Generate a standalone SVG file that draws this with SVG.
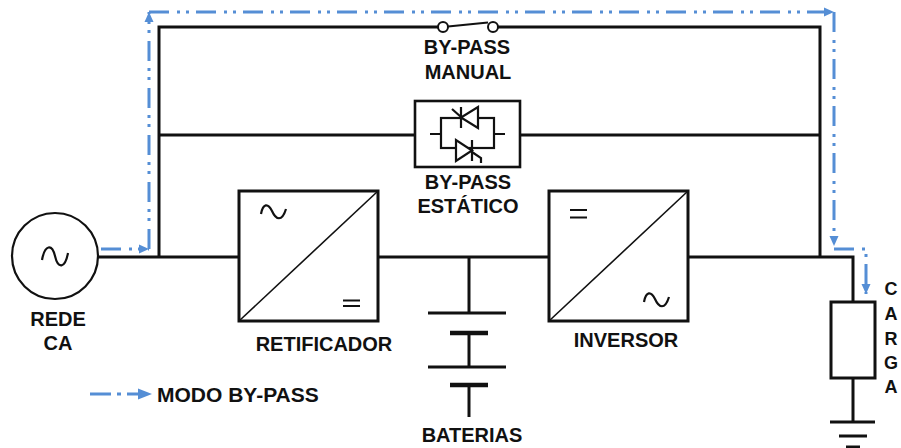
<svg xmlns="http://www.w3.org/2000/svg" width="901" height="448" viewBox="0 0 901 448">
<style>
.w{fill:none;stroke:#111;stroke-width:3}
.thin{fill:none;stroke:#111;stroke-width:1.6}
.sym{fill:none;stroke:#111;stroke-width:2.2}
.t{font-family:"Liberation Sans",Arial,sans-serif;font-weight:bold;font-size:20px;fill:#111;text-anchor:middle}
.c{font-size:18px}
.b{fill:none;stroke:#558ed5;stroke-width:3;stroke-dasharray:20 8 3 6 3 7}
</style>
<defs>
<marker id="ar" markerUnits="userSpaceOnUse" markerWidth="12" markerHeight="12" viewBox="0 0 12 12" refX="10" refY="6" orient="auto">
<path d="M0,1.5 L10,6 L0,10.5 Z" fill="#558ed5"/>
</marker>
</defs>
<rect width="901" height="448" fill="#fff"/>
<g id="connectors">
<path class="w" d="M159,257 V27 H438 M498,27 H820 V257"/>
<path class="w" d="M159,135 H415 M520,135 H820"/>
<path class="w" d="M98,257 H239 M378,257 H549 M688,257 H853 V302 M853,378 V422"/>
<path class="w" d="M469,257 V313"/>
</g>
<g id="bypass-mode">
<path class="b" d="M101,249 H149" marker-end="url(#ar)"/>
<path class="b" d="M149,249 V12" marker-end="url(#ar)"/>
<path class="b" d="M149,12 H834" marker-end="url(#ar)"/>
<path class="b" d="M834,12 V246" marker-end="url(#ar)"/>
<path class="b" d="M834,249 H866 V294" marker-end="url(#ar)"/>
</g>
<g id="rede-ca">
<circle cx="55" cy="256" r="43" fill="#fff" stroke="#111" stroke-width="2.2"/>
<path class="sym" d="M42,260 C45,244 52,244 55,256 C58,269 65,269 68,253"/>
<text class="t" x="58" y="326">REDE</text>
<text class="t" x="58" y="350">CA</text>
</g>
<g id="bypass-manual">
<circle cx="443" cy="27" r="5" fill="#fff" stroke="#111" stroke-width="2"/>
<circle cx="493" cy="27" r="5" fill="#fff" stroke="#111" stroke-width="2"/>
<path class="sym" d="M448,26.5 L488,22.5"/>
<text class="t" x="467" y="54">BY-PASS</text>
<text class="t" x="468" y="79">MANUAL</text>
</g>
<g id="bypass-estatico">
<rect x="415" y="101" width="105" height="66" fill="#fff" stroke="#111" stroke-width="2.6"/>
<path class="sym" d="M430,134 H441 M494,134 H505"/>
<rect x="441" y="118" width="53" height="30" class="sym"/>
<path d="M478,107 L478,128 L461,117.5 Z" fill="#fff" stroke="#111" stroke-width="2.2"/>
<path class="sym" d="M461,107 V128 M461,117 L452,109"/>
<path d="M456,140 L456,161 L472,150.5 Z" fill="#fff" stroke="#111" stroke-width="2.2"/>
<path class="sym" d="M472,140 V161 M472,152 L481,158 V163"/>
<text class="t" x="468" y="189">BY-PASS</text>
<text class="t" x="468" y="213">ESTÁTICO</text>
</g>
<g id="retificador">
<rect x="239" y="191" width="139" height="130" fill="#fff" stroke="#111" stroke-width="3"/>
<path class="thin" d="M239,321 L378,191"/>
<path class="sym" d="M261,214 C263,203 268,203 272,211 C276,220 282,222 286,209"/>
<path class="sym" d="M343,300.5 H360 M343,306 H360"/>
<text class="t" x="324" y="351">RETIFICADOR</text>
</g>
<g id="baterias">
<path class="w" d="M428,313 H506"/>
<path d="M450,333 H488" stroke="#111" stroke-width="4.5"/>
<path class="w" d="M469,333 V367 M428,367 H506"/>
<path d="M450,385 H488" stroke="#111" stroke-width="4.5"/>
<path class="w" d="M469,385 V417"/>
<text class="t" x="472" y="442">BATERIAS</text>
</g>
<g id="inversor">
<rect x="549" y="191" width="139" height="130" fill="#fff" stroke="#111" stroke-width="3"/>
<path class="thin" d="M549,321 L688,191"/>
<path class="sym" d="M570,210 H587 M570,217.5 H587"/>
<path class="sym" d="M644,302 C646,291 651,291 655,299 C659,308 665,310 669,297"/>
<text class="t" x="626" y="347">INVERSOR</text>
</g>
<g id="carga">
<rect x="831" y="302" width="44" height="76" fill="#fff" stroke="#111" stroke-width="3"/>
<path class="w" d="M830,422 H875 M839,436 H867 M846,447 H860"/>
<text class="t c" x="891" y="295">C</text>
<text class="t c" x="891" y="320">A</text>
<text class="t c" x="891" y="345">R</text>
<text class="t c" x="891" y="369">G</text>
<text class="t c" x="891" y="393">A</text>
</g>
<g id="legend">
<path d="M90,394 H111 M117,394 H121 M127,394 H140" stroke="#558ed5" stroke-width="3" fill="none"/>
<path d="M138,388.5 L152,394 L138,399.5 Z" fill="#558ed5"/>
<text class="t" x="157" y="402" style="text-anchor:start;font-size:21px">MODO BY-PASS</text>
</g>
</svg>
